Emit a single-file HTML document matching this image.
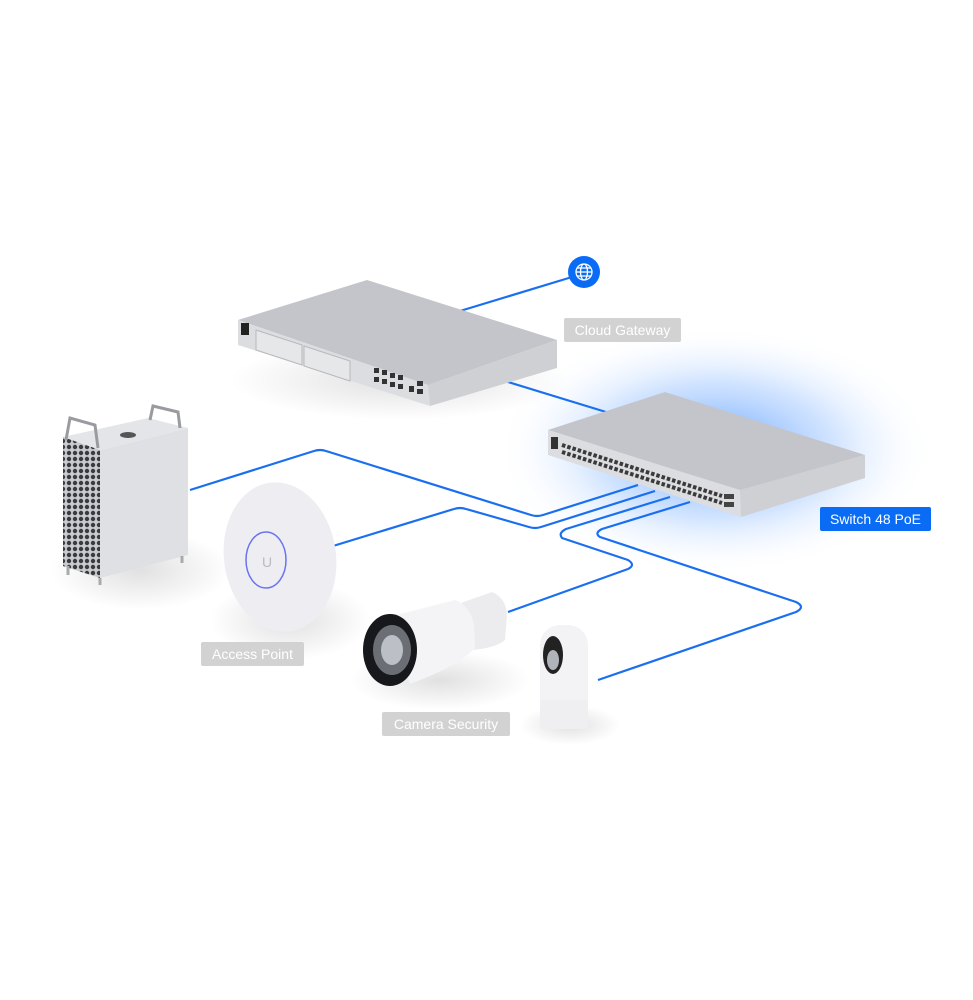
<!DOCTYPE html>
<html><head><meta charset="utf-8"><style>
html,body{margin:0;padding:0;background:#fff;}
body{width:973px;height:1000px;overflow:hidden;position:relative;font-family:"Liberation Sans",sans-serif;}
.lbl{position:absolute;color:#fff;font-size:14px;line-height:24px;text-align:center;border-radius:2px;}
</style></head><body>
<svg width="973" height="1000" viewBox="0 0 973 1000" style="position:absolute;left:0;top:0">
<defs>
<radialGradient id="glow" cx="50%" cy="50%" r="50%">
<stop offset="0" stop-color="#3d8cff" stop-opacity="0.8"/>
<stop offset="0.55" stop-color="#7fb3ff" stop-opacity="0.35"/>
<stop offset="1" stop-color="#fff" stop-opacity="0"/>
</radialGradient>
<radialGradient id="shadow" cx="50%" cy="50%" r="50%">
<stop offset="0" stop-color="#000" stop-opacity="0.12"/>
<stop offset="1" stop-color="#000" stop-opacity="0"/>
</radialGradient>
<pattern id="holes" width="6" height="6" patternUnits="userSpaceOnUse">
<rect width="6" height="6" fill="#c9cace"/>
<circle cx="3" cy="3" r="2.2" fill="#3a3b40"/>
</pattern>
</defs>
<ellipse cx="715" cy="450" rx="220" ry="125" fill="url(#glow)"/>
<ellipse cx="400" cy="380" rx="170" ry="40" fill="url(#shadow)"/>
<ellipse cx="140" cy="570" rx="90" ry="40" fill="url(#shadow)"/>
<ellipse cx="290" cy="620" rx="80" ry="40" fill="url(#shadow)"/>
<ellipse cx="440" cy="680" rx="90" ry="30" fill="url(#shadow)"/>
<ellipse cx="570" cy="725" rx="50" ry="20" fill="url(#shadow)"/>

<g fill="none" stroke="#1a6ff0" stroke-width="2.2" stroke-linejoin="round">
<polyline points="460,311 572,277"/>
<polyline points="508,382 606,412"/>
<path d="M190,490 L314,451 Q320,449 326,451 L531,515 Q537,517 543,515 L638,485"/>
<path d="M333,546 L454,509 Q460,507 466,509 L529,527 Q535,529 541,527 L655,491"/>
<path d="M670,497 L566,529 Q558,533 562,538 L628,560 Q636,565 628,569 L508,612"/>
<path d="M690,502 L602,529 Q594,533 600,537 L796,602 Q806,607 796,612 L598,680"/>
</g>

<circle cx="584" cy="272" r="16" fill="#0a6cf5"/>
<g fill="none" stroke="#fff" stroke-width="1.3">
<circle cx="584" cy="272" r="8"/><ellipse cx="584" cy="272" rx="3.5" ry="8"/>
<line x1="576" y1="272" x2="592" y2="272"/><line x1="577.5" y1="268" x2="590.5" y2="268"/><line x1="577.5" y1="276" x2="590.5" y2="276"/>
</g>

<!-- gateway -->
<polygon points="238,320 367,280 557,340 428,385" fill="#c4c5ca"/>
<polygon points="238,320 428,385 430,406 238,345" fill="#dcdde0"/>
<polygon points="428,385 557,340 557,368 430,406" fill="#cfd0d4"/>
<rect x="241" y="323" width="8" height="12" fill="#222"/>
<polygon points="256,330 302,345 302,365 256,350" fill="#e6e7e9" stroke="#b8b9bd"/>
<polygon points="304,346 350,361 350,381 304,366" fill="#e6e7e9" stroke="#b8b9bd"/>
<g fill="#333">
<rect x="374" y="368" width="5" height="5"/><rect x="382" y="370" width="5" height="5"/><rect x="390" y="373" width="5" height="5"/><rect x="398" y="375" width="5" height="5"/>
<rect x="374" y="377" width="5" height="5"/><rect x="382" y="379" width="5" height="5"/><rect x="390" y="382" width="5" height="5"/><rect x="398" y="384" width="5" height="5"/>
<rect x="409" y="386" width="5" height="6"/><rect x="417" y="381" width="6" height="5"/><rect x="417" y="389" width="6" height="5"/>
</g>

<!-- switch -->
<polygon points="548,430 665,392 865,455 740,490" fill="#c4c5ca"/>
<polygon points="548,430 740,490 741,517 548,455" fill="#dcdde0"/>
<polygon points="740,490 865,455 865,478 741,517" fill="#cfd0d4"/>
<rect x="551" y="437" width="7" height="12" fill="#333"/>
<g stroke="#3a3a3a" stroke-width="4" stroke-dasharray="3.5 2">
<line x1="562" y1="445" x2="722" y2="496"/>
<line x1="562" y1="452" x2="722" y2="503"/>
</g>
<g fill="#444"><rect x="724" y="494" width="10" height="5"/><rect x="724" y="502" width="10" height="5"/></g>

<!-- mac pro -->
<polygon points="63,437 148,418 188,428 100,450" fill="#e4e5e8"/>
<polygon points="63,437 100,450 100,578 63,566" fill="url(#holes)"/>
<polygon points="100,450 188,428 188,555 100,578" fill="#dfe0e3"/>
<ellipse cx="128" cy="435" rx="8" ry="3" fill="#555"/>
<path d="M66,440 L70,418 L95,425 L98,448" fill="none" stroke="#9a9ba0" stroke-width="3"/>
<path d="M150,420 L153,406 L178,412 L180,428" fill="none" stroke="#9a9ba0" stroke-width="3"/>
<g stroke="#aaa" stroke-width="3"><line x1="68" y1="566" x2="68" y2="575"/><line x1="100" y1="578" x2="100" y2="585"/><line x1="182" y1="556" x2="182" y2="563"/></g>

<!-- access point -->
<ellipse cx="280" cy="557" rx="56" ry="75" fill="#eeeef2" transform="rotate(-8 280 557)"/>
<ellipse cx="266" cy="560" rx="20" ry="28" fill="none" stroke="#6a74ee" stroke-width="1.5"/>
<text x="262" y="567" font-size="14" fill="#bbb" font-family="Liberation Sans">U</text>

<!-- bullet camera -->
<path d="M458,604 L492,592 Q506,598 507,615 L505,640 Q496,648 472,650 Z" fill="#ececef"/>
<path d="M385,618 L455,600 Q470,605 474,625 L475,648 Q460,665 410,684 Z" fill="#f4f4f6"/>
<ellipse cx="390" cy="650" rx="27" ry="36" fill="#17181b"/>
<ellipse cx="392" cy="650" rx="19" ry="25" fill="#6b6e74"/>
<ellipse cx="392" cy="650" rx="11" ry="15" fill="#bcc0c6"/>

<!-- dome camera -->
<rect x="540" y="625" width="48" height="104" rx="20" ry="20" fill="#f3f3f5"/>
<rect x="540" y="700" width="48" height="29" fill="#efeff1"/>
<ellipse cx="553" cy="655" rx="10" ry="19" fill="#222"/>
<ellipse cx="553" cy="660" rx="6" ry="10" fill="#b0b4ba"/>
</svg>
<div class="lbl" style="left:564px;top:318px;width:117px;background:#d2d2d2">Cloud Gateway</div>
<div class="lbl" style="left:820px;top:507px;width:111px;background:#0a6cf5">Switch 48 PoE</div>
<div class="lbl" style="left:201px;top:642px;width:103px;background:#d2d2d2">Access Point</div>
<div class="lbl" style="left:382px;top:712px;width:128px;background:#d2d2d2">Camera Security</div>
</body></html>
